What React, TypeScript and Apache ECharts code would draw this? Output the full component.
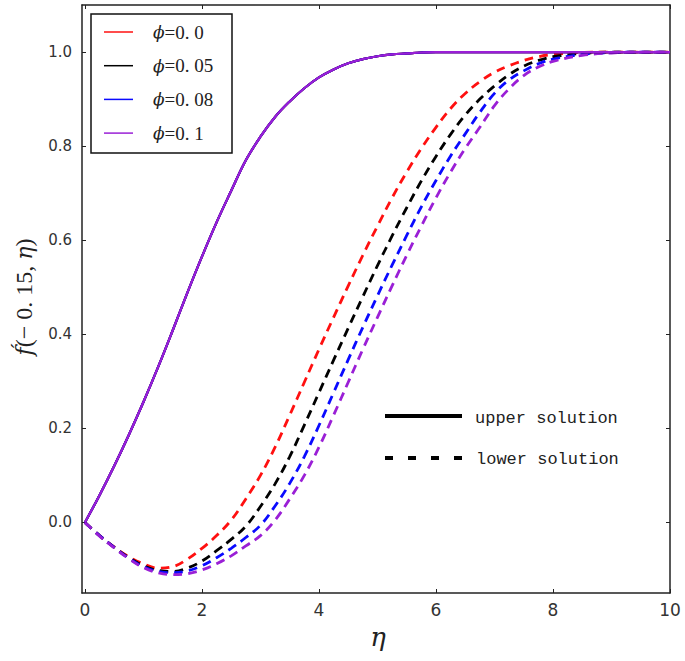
import React, { useEffect, useRef } from "react";
import * as echarts from "echarts";

const etaGrid = [0, 0.25, 0.5, 0.75, 1, 1.25, 1.5, 1.75, 2, 2.25, 2.5, 2.75, 3, 3.25, 3.5, 3.75, 4, 4.25, 4.5, 4.75, 5, 5.25, 5.5, 5.75, 6, 6.25, 6.5, 6.75, 7, 7.25, 7.5, 7.75, 8, 8.5, 9, 9.5, 10];

const upperSolution = [0, 0.058, 0.12, 0.186, 0.256, 0.33, 0.408, 0.488, 0.565, 0.638, 0.705, 0.77, 0.82, 0.862, 0.895, 0.923, 0.946, 0.963, 0.976, 0.985, 0.991, 0.995, 0.997, 0.999, 1, 1, 1, 1, 1, 1, 1, 1, 1, 1, 1, 1, 1];

const lowerPhi000 = [0, -0.028, -0.052, -0.073, -0.088, -0.097, -0.094, -0.078, -0.055, -0.028, 0.005, 0.05, 0.1, 0.16, 0.228, 0.298, 0.368, 0.436, 0.503, 0.568, 0.63, 0.69, 0.745, 0.795, 0.84, 0.88, 0.912, 0.937, 0.957, 0.971, 0.982, 0.99, 0.995, 0.999, 1, 1, 1];
const lowerPhi005 = [0, -0.028, -0.053, -0.075, -0.092, -0.102, -0.104, -0.097, -0.082, -0.06, -0.036, -0.008, 0.034, 0.082, 0.14, 0.207, 0.276, 0.345, 0.413, 0.48, 0.546, 0.609, 0.669, 0.726, 0.778, 0.825, 0.866, 0.9, 0.928, 0.952, 0.97, 0.982, 0.99, 0.997, 1, 1, 1];
const lowerPhi008 = [0, -0.028, -0.053, -0.076, -0.094, -0.104, -0.107, -0.103, -0.092, -0.075, -0.055, -0.032, -0.006, 0.035, 0.083, 0.14, 0.206, 0.276, 0.346, 0.415, 0.482, 0.547, 0.61, 0.671, 0.727, 0.779, 0.826, 0.872, 0.912, 0.941, 0.96, 0.975, 0.985, 0.995, 0.999, 1, 1];
const lowerPhi010 = [0, -0.029, -0.054, -0.077, -0.096, -0.107, -0.111, -0.109, -0.101, -0.088, -0.071, -0.05, -0.028, 0.005, 0.05, 0.1, 0.16, 0.228, 0.298, 0.368, 0.436, 0.503, 0.568, 0.63, 0.69, 0.745, 0.795, 0.84, 0.886, 0.922, 0.95, 0.968, 0.98, 0.993, 0.998, 1, 1];

const phiValues = ["0. 0", "0. 05", "0. 08", "0. 1"];
const phiColors = ["#ff1010", "#000000", "#0a0aff", "#9a1fd6"];
const lowerSets = [lowerPhi000, lowerPhi005, lowerPhi008, lowerPhi010];

const xTicks = [0, 2, 4, 6, 8, 10];
const yTicks = [0, 0.2, 0.4, 0.6, 0.8, 1.0];

const pairs = (ys: number[]) => etaGrid.map((x, i) => [x, ys[i]]);

export default function App() {
  const ref = useRef<HTMLDivElement>(null);
  useEffect(() => {
    if (!ref.current) return;
    const chart = echarts.init(ref.current, null, { renderer: "svg" });
    const axisLine = { show: true, onZero: false, lineStyle: { color: "#222", width: 1.5 } };
    const labelStyle = { color: "#333", fontFamily: "DejaVu Sans", fontSize: 15 };
    const lowerSeries = lowerSets.map((d, i) => ({
      type: "line",
      name: "lower" + i,
      data: pairs(d),
      showSymbol: false,
      smooth: 0.4,
      lineStyle: { color: phiColors[i], width: 2.8, type: [9, 6] },
      z: 2,
    }));
    const upperSeries = phiColors.map((c, i) => ({
      type: "line",
      name: "upper" + i,
      data: pairs(upperSolution),
      showSymbol: false,
      smooth: 0.4,
      lineStyle: { color: c, width: 2.2 },
      z: 3,
    }));
    const legendItems: any[] = [];
    phiColors.forEach((c, i) => {
      const y = 32 + i * 33.7;
      legendItems.push({
        type: "line",
        shape: { x1: 104, y1: y, x2: 133, y2: y },
        style: { stroke: c, lineWidth: 1.5 },
      });
      legendItems.push({
        type: "text",
        x: 153,
        y: y,
        style: {
          text: "{i|ϕ}{n|=0" + phiValues[i].slice(1) + "}",
          rich: {
            i: { fontFamily: "DejaVu Serif", fontStyle: "italic", fontSize: 17, fill: "#222" },
            n: { fontFamily: "Liberation Serif", fontSize: 19, fill: "#222" },
          },
          textVerticalAlign: "middle",
        },
      });
    });
    chart.setOption({
      animation: false,
      backgroundColor: "#fff",
      grid: { left: 82, right: 15, top: 5, bottom: 68 },
      xAxis: [
        {
          type: "value",
          min: -0.05,
          max: 10,
          position: "bottom",
          axisLine,
          axisTick: { show: true, inside: true, length: 4, customValues: xTicks, lineStyle: { color: "#222" } },
          axisLabel: { customValues: xTicks, margin: 8, ...labelStyle, fontSize: 17, formatter: (v: number) => String(v) },
          splitLine: { show: false },
        },
        {
          type: "value",
          min: -0.05,
          max: 10,
          position: "top",
          axisLine,
          axisTick: { show: true, inside: true, length: 4, customValues: xTicks, lineStyle: { color: "#222" } },
          axisLabel: { show: false },
          splitLine: { show: false },
        },
      ],
      yAxis: [
        {
          type: "value",
          min: -0.15,
          max: 1.1,
          position: "left",
          axisLine,
          axisTick: { show: true, inside: true, length: 4, customValues: yTicks, lineStyle: { color: "#222" } },
          axisLabel: { customValues: yTicks, margin: 10, ...labelStyle, formatter: (v: number) => v.toFixed(1) },
          splitLine: { show: false },
        },
        {
          type: "value",
          min: -0.15,
          max: 1.1,
          position: "right",
          axisLine,
          axisTick: { show: true, inside: true, length: 4, customValues: yTicks, lineStyle: { color: "#222" } },
          axisLabel: { show: false },
          splitLine: { show: false },
        },
      ],
      series: [...lowerSeries, ...upperSeries],
      graphic: [
        {
          type: "rect",
          shape: { x: 91, y: 14, width: 141, height: 139 },
          style: { fill: "#fff", stroke: "#111", lineWidth: 1.5 },
          z: 10,
        },
        ...legendItems.map((it) => ({ ...it, z: 11 })),
        {
          type: "line",
          shape: { x1: 385, y1: 416, x2: 462, y2: 416 },
          style: { stroke: "#000", lineWidth: 4 },
          z: 10,
        },
        {
          type: "line",
          shape: { x1: 385, y1: 458, x2: 462, y2: 458 },
          style: { stroke: "#000", lineWidth: 4, lineDash: [8, 15] },
          z: 10,
        },
        {
          type: "text",
          x: 475,
          y: 418,
          style: { text: "upper solution", fontFamily: "Liberation Mono", fontSize: 17, fill: "#222", textVerticalAlign: "middle" },
          z: 10,
        },
        {
          type: "text",
          x: 476,
          y: 459,
          style: { text: "lower solution", fontFamily: "Liberation Mono", fontSize: 17, fill: "#222", textVerticalAlign: "middle" },
          z: 10,
        },
        {
          type: "text",
          x: 378,
          y: 637,
          style: { text: "η", fontFamily: "DejaVu Serif", fontStyle: "italic", fontSize: 26, fill: "#222", textAlign: "center", textVerticalAlign: "middle" },
        },
        {
          type: "text",
          x: 24,
          y: 297,
          rotation: Math.PI / 2,
          style: {
            text: "{i|f́}{n|(− 0. 15, }{i|η}{n|)}",
            rich: {
              i: { fontFamily: "DejaVu Serif", fontStyle: "italic", fontSize: 22, fill: "#222" },
              n: { fontFamily: "Liberation Serif", fontSize: 24, fill: "#222" },
            },
            textAlign: "center",
            textVerticalAlign: "middle",
          },
        },
      ],
    });
    return () => chart.dispose();
  }, []);
  return <div ref={ref} style={{ width: 685, height: 661, position: "absolute", left: 0, top: 0 }} />;
}
